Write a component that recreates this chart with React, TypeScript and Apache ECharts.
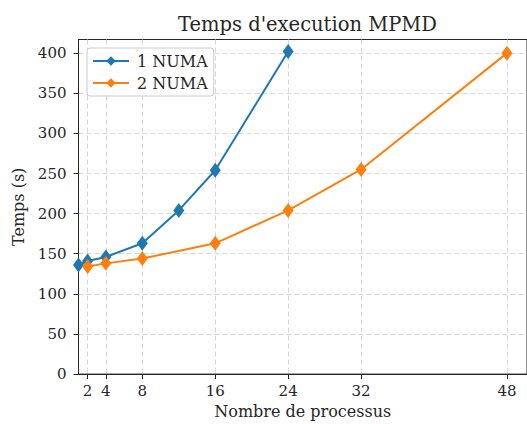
import React, { useEffect, useRef } from "react";
import * as echarts from "echarts";

// Execution times (s) versus number of processes
const procs1Numa = [1, 2, 4, 8, 12, 16, 24];
const temps1Numa = [136, 141, 146, 163, 204, 254, 402];
const procs2Numa = [2, 4, 8, 16, 24, 32, 48];
const temps2Numa = [134, 138, 144, 163, 204, 255, 400];

const xTicks = [2, 4, 8, 16, 24, 32, 48];
const yTicks = [0, 50, 100, 150, 200, 250, 300, 350, 400];

const seriesNames = ["1 NUMA", "2 NUMA"];
const FONT = "DejaVu Serif";
const INK = "#262626";

export default function App() {
  const ref = useRef<HTMLDivElement>(null);

  useEffect(() => {
    if (!ref.current) return;
    const chart = echarts.init(ref.current, undefined, { renderer: "svg" });

    const pairs = (xs: number[], ys: number[]) => xs.map((x, i) => [x, ys[i]]);

    chart.setOption({
      animation: false,
      backgroundColor: "#ffffff",
      title: {
        text: "Temps d'execution MPMD",
        left: 173,
        top: 9,
        textStyle: { fontFamily: FONT, fontSize: 19.5, fontWeight: "normal", color: INK },
      },
      legend: {
        orient: "vertical",
        left: 87,
        top: 48,
        data: seriesNames,
        backgroundColor: "rgba(255,255,255,0.85)",
        borderColor: "#cccccc",
        borderWidth: 1,
        borderRadius: 3,
        padding: [5, 6, 5, 5],
        itemGap: 6,
        itemWidth: 36,
        itemHeight: 12,
        textStyle: { fontFamily: FONT, fontSize: 16, color: INK, padding: [0, 0, 0, 3] },
      },
      grid: {
        show: true,
        left: 78.5,
        right: -2,
        top: 39.5,
        bottom: 49.5,
        backgroundColor: "transparent",
        borderColor: INK,
        borderWidth: 1,
      },
      xAxis: {
        type: "value",
        min: 1,
        max: 50.2,
        name: "Nombre de processus",
        nameLocation: "middle",
        nameGap: 27,
        nameTextStyle: { fontFamily: FONT, fontSize: 16, color: INK },
        axisLine: { show: true, lineStyle: { color: INK, width: 1 } },
        axisTick: { show: true, length: 5, customValues: xTicks, lineStyle: { color: INK } },
        axisLabel: {
          customValues: xTicks,
          margin: 9,
          fontFamily: FONT,
          fontSize: 15,
          color: INK,
        },
        splitLine: {
          show: true,
          lineStyle: { color: "#d6d6d6", type: [5, 3], width: 1 },
        },
      },
      yAxis: {
        type: "value",
        min: 0,
        max: 417,
        name: "Temps (s)",
        nameLocation: "middle",
        nameGap: 50,
        nameTextStyle: { fontFamily: FONT, fontSize: 16, color: INK },
        axisLine: { show: true, lineStyle: { color: INK, width: 1 } },
        axisTick: { show: true, length: 5, customValues: yTicks, lineStyle: { color: INK } },
        axisLabel: {
          customValues: yTicks,
          margin: 12,
          fontFamily: FONT,
          fontSize: 15,
          color: INK,
        },
        splitLine: {
          show: true,
          lineStyle: { color: "#d6d6d6", type: [5, 3], width: 1 },
        },
      },
      series: [
        {
          name: seriesNames[0],
          type: "line",
          data: pairs(procs1Numa, temps1Numa),
          symbol: "diamond",
          symbolSize: [11, 15],
          color: "#1f77b4",
          lineStyle: { width: 2, color: "#1f77b4" },
          itemStyle: { color: "#1f77b4" },
          z: 3,
        },
        {
          name: seriesNames[1],
          type: "line",
          data: pairs(procs2Numa, temps2Numa),
          symbol: "diamond",
          symbolSize: [11, 15],
          color: "#ff7f0e",
          lineStyle: { width: 2, color: "#ff7f0e" },
          itemStyle: { color: "#ff7f0e" },
          z: 4,
        },
      ],
    });

    return () => chart.dispose();
  }, []);

  return (
    <div
      ref={ref}
      style={{ position: "absolute", left: 0, top: 0, width: 527, height: 424, overflow: "hidden" }}
    />
  );
}
